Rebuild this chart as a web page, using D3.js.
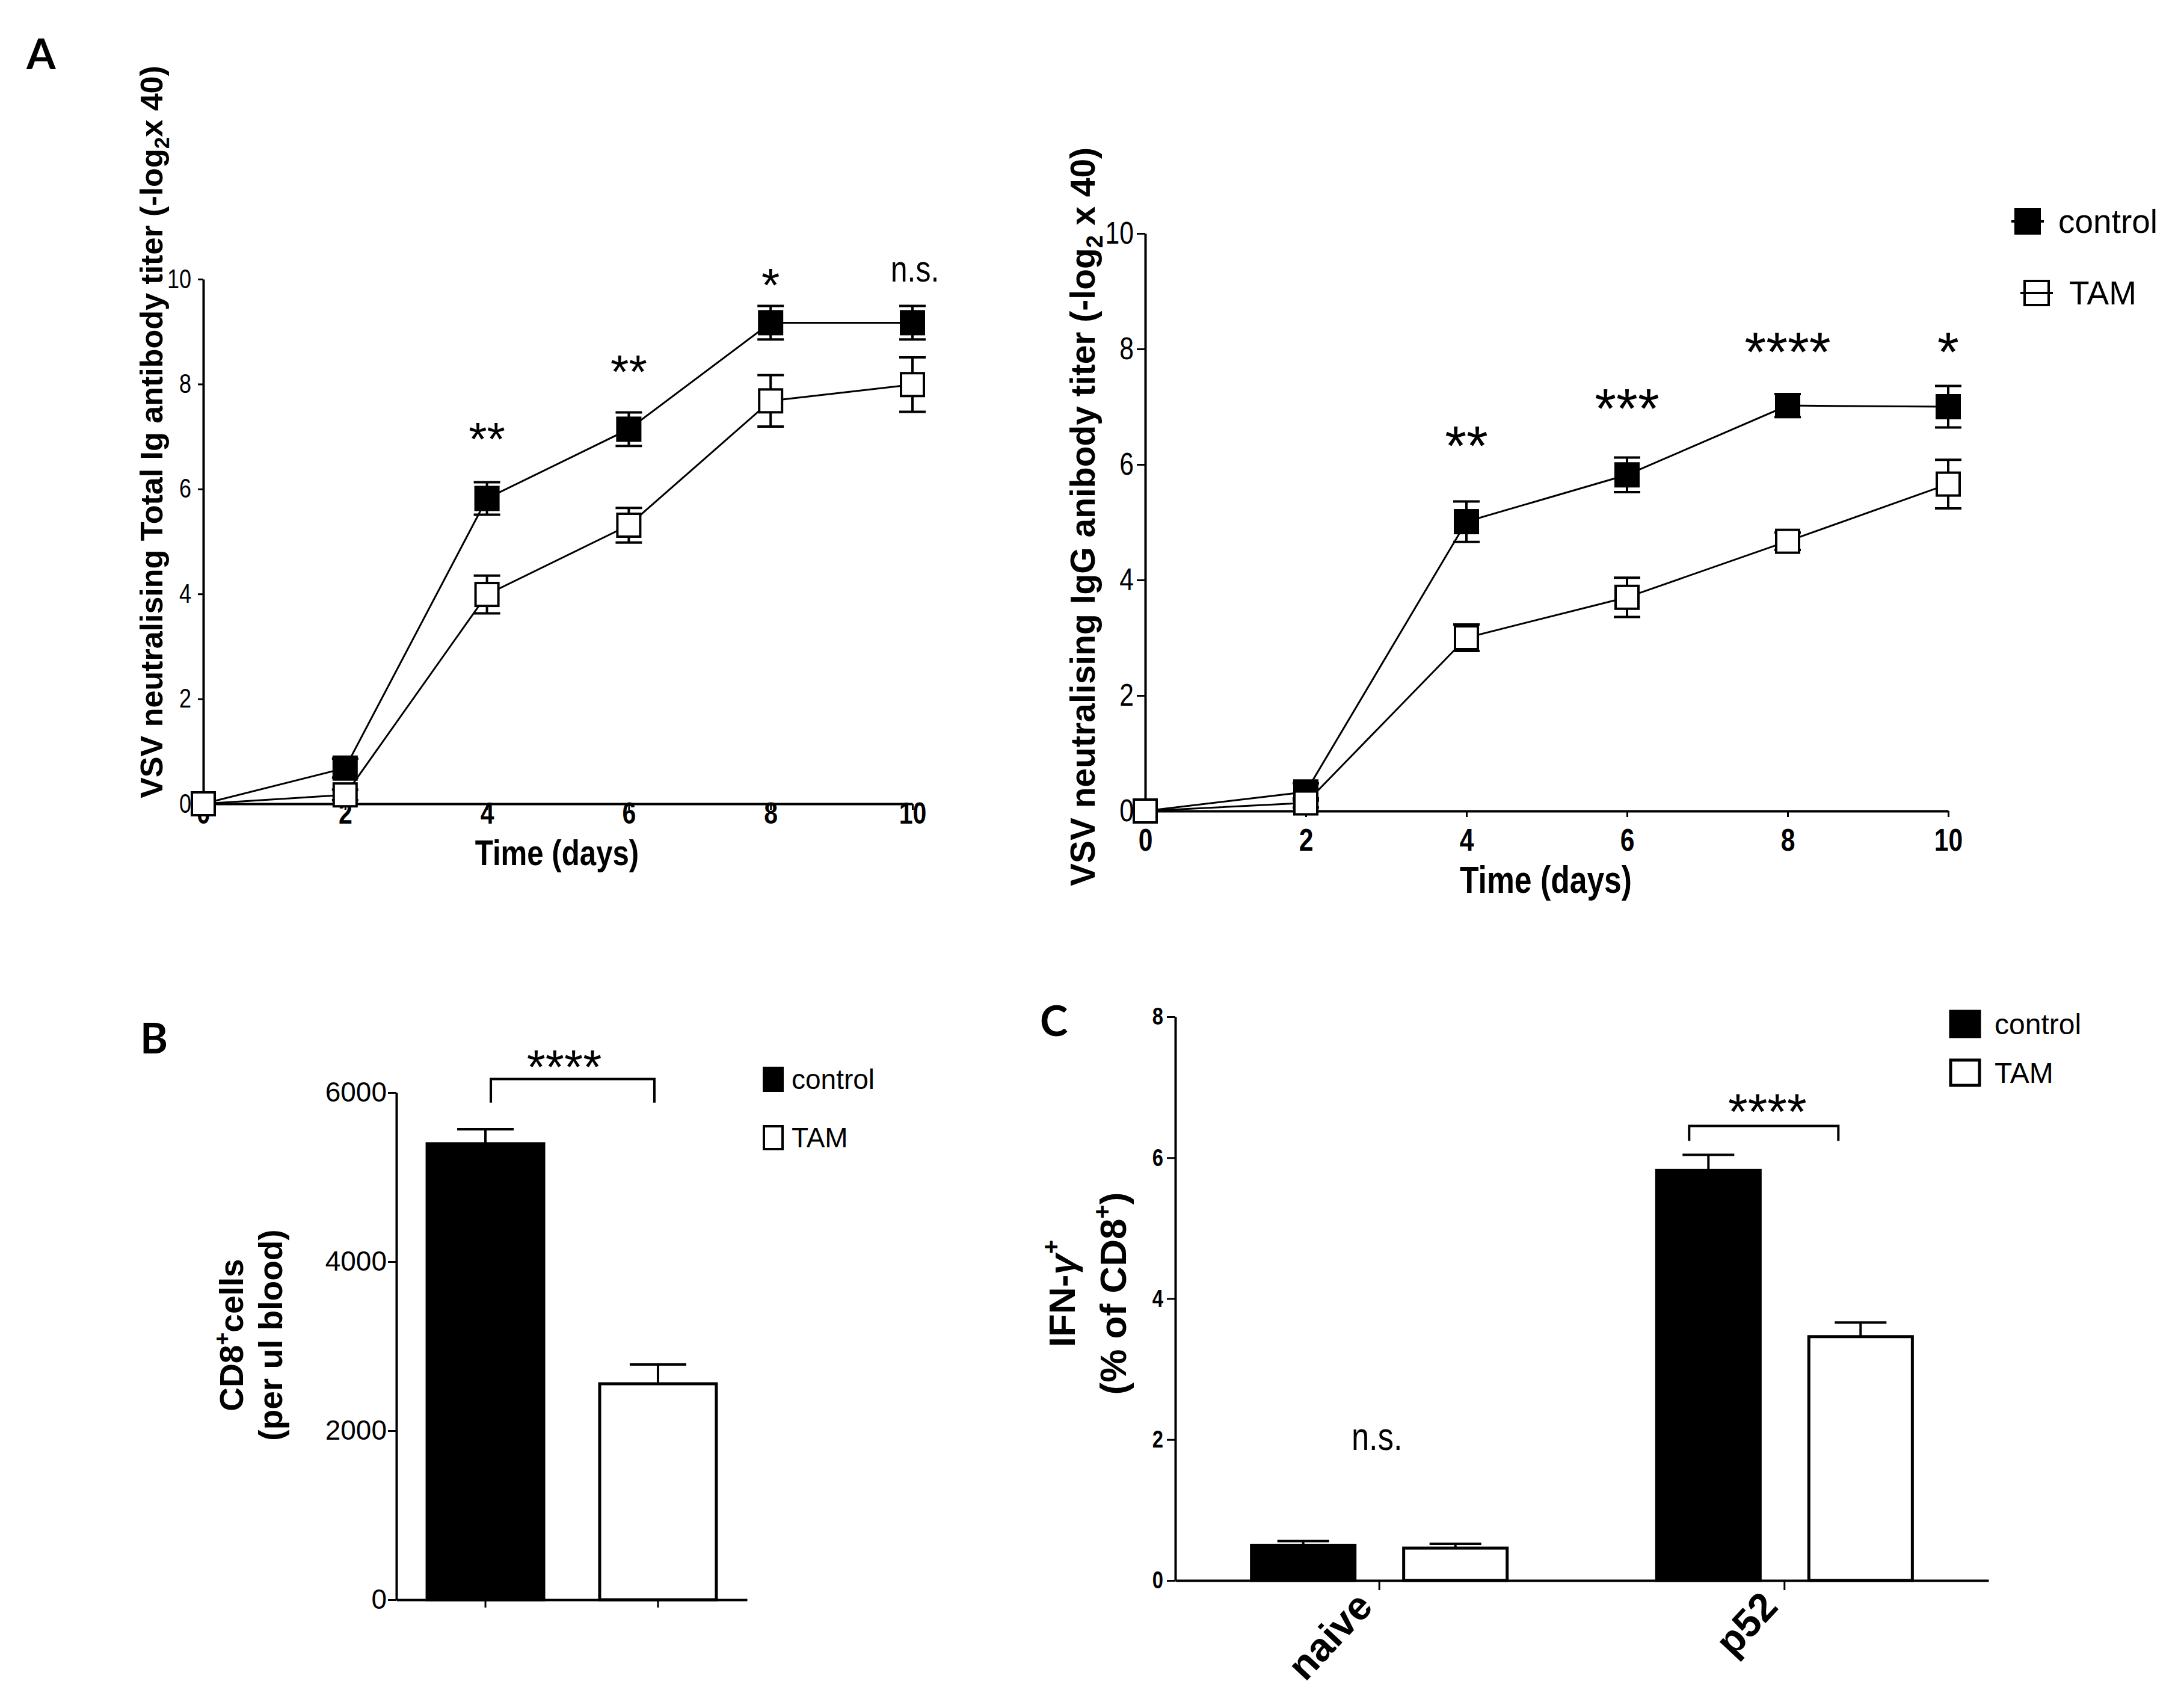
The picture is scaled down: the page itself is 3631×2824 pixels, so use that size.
<!DOCTYPE html>
<meta charset="utf-8">
<head>
<script src="https://d3js.org/d3.v7.min.js"></script>
<style>
  body { margin: 0; background: #fff; }
</style>
</head>
<body>
<div id="chart"></div>
<script>

// ---- values ----
var days = [0, 2, 4, 6, 8, 10];
var dayTicks = [0, 2, 4, 6, 8, 10];
var titerTicks = [0, 2, 4, 6, 8, 10];

// A, left: total Ig titer
var totalIgControl    = [0, 0.68, 5.82, 7.14, 9.17, 9.17];
var totalIgControlErr = [0, 0.18, 0.31, 0.32, 0.32, 0.32];
var totalIgTam        = [0, 0.17, 3.99, 5.31, 7.68, 7.99];
var totalIgTamErr     = [0, 0.10, 0.36, 0.33, 0.49, 0.52];
var totalIgSig        = ["", "", "**", "**", "*", "n.s."];

// A, right: IgG titer
var iggControl    = [0, 0.33, 5.01, 5.82, 7.02, 7.00];
var iggControlErr = [0, 0.15, 0.35, 0.30, 0.20, 0.36];
var iggTam        = [0, 0.14, 3.00, 3.70, 4.67, 5.66];
var iggTamErr     = [0, 0.08, 0.23, 0.34, 0.15, 0.42];
var iggSig        = ["", "", "**", "***", "****", "*"];

// B: CD8+ cells per ul blood
var groups = ["control", "TAM"];
var cd8Values = [5395, 2555];
var cd8Err = [170, 228];
var cd8Ticks = [0, 2000, 4000, 6000];

// C: IFN-g+ % of CD8+
var ifnCategories = ["naive", "p52"];
var ifnControl    = [0.50, 5.82];
var ifnControlErr = [0.06, 0.22];
var ifnTam        = [0.46, 3.46];
var ifnTamErr     = [0.06, 0.20];
var ifnTicks = [0, 2, 4, 6, 8];

var ARIAL = "'Liberation Sans', Arial, sans-serif";
var LETTER = "Lato, 'Open Sans', sans-serif";
var SQUEEZE = 0.82;   // no narrow font installed, so squeeze Arial sideways

var W = 3631, H = 2824;

var svg = d3.select("#chart").append("svg")
    .attr("width", W)
    .attr("height", H);
svg.append("rect").attr("width", W).attr("height", H).attr("fill", "#fff");

// squeeze axis tick texts horizontally around their tick
function squeeze(sel) {
  sel.each(function() {
    var t = d3.select(this);
    var x = +t.attr("x") || 0;
    t.attr("x", x / SQUEEZE).attr("transform", "scale(" + SQUEEZE + ",1)");
  });
}

// a squeezed free text
function narrowText(g, x, y, txt, size, weight) {
  return g.append("text")
    .attr("transform", "translate(" + x + "," + y + ") scale(" + SQUEEZE + ",1)")
    .attr("text-anchor", "middle")
    .style("font-family", ARIAL)
    .style("font-weight", weight || 400)
    .style("font-size", size + "px")
    .text(txt);
}

function styleAxis(ax, size, weight) {
  ax.select(".domain").attr("stroke", "#000").attr("stroke-width", 4);
  ax.selectAll(".tick line").attr("stroke", "#000").attr("stroke-width", 3);
  ax.selectAll(".tick text")
    .style("font-family", ARIAL)
    .style("font-size", size + "px")
    .style("font-weight", weight)
    .attr("fill", "#000");
}

// panel letters
[["A", 44, 115], ["B", 233, 1751], ["C", 1729, 1722]].forEach(function(d) {
  svg.append("text")
    .attr("x", d[1]).attr("y", d[2])
    .style("font-family", LETTER).style("font-weight", 700).style("font-size", "70px")
    .text(d[0]);
});

// ---------- line panels (A) ----------
function linePanel(o) {
  var x = d3.scaleLinear().domain([0, 10]).range([o.left, o.right]);
  var y = d3.scaleLinear().domain([0, 10]).range([o.bottom, o.top]);
  var g = svg.append("g");

  var ya = g.append("g")
    .attr("transform", "translate(" + o.left + ",0)")
    .call(d3.axisLeft(y).tickValues(titerTicks).tickSize(o.yTick).tickPadding(o.yPad).tickSizeOuter(0));
  styleAxis(ya, o.yFont, 400);
  squeeze(ya.selectAll(".tick text"));

  var xa = g.append("g")
    .attr("transform", "translate(0," + o.bottom + ")")
    .call(d3.axisBottom(x).tickValues(dayTicks).tickSize(10).tickSizeOuter(0));
  styleAxis(xa, o.xFont, 700);
  xa.selectAll(".tick text").attr("y", o.xBase).attr("dy", null);
  squeeze(xa.selectAll(".tick text"));

  // x title
  narrowText(g, o.timeX, o.timeY, "Time (days)", o.timeFont, 700);

  // y title
  var t = g.append("text")
    .attr("transform", "translate(" + o.titleX + "," + o.titleY + ") rotate(-90)")
    .attr("text-anchor", "middle")
    .style("font-family", ARIAL).style("font-weight", 700).style("font-size", o.titleFont + "px");
  t.append("tspan").text(o.title[0]);
  t.append("tspan").attr("dy", o.titleFont * 0.22).style("font-size", (o.titleFont * 0.68) + "px").text("2");
  t.append("tspan").attr("dy", -o.titleFont * 0.22).text(o.title[1]);

  var series = [
    {v: o.control, e: o.controlErr, fill: "#000"},
    {v: o.tam, e: o.tamErr, fill: "#fff"}
  ];

  var line = d3.line()
    .x(function(d, i) { return x(days[i]); })
    .y(function(d) { return y(d); });

  series.forEach(function(s) {
    // error bars, both directions
    var eb = g.append("g").attr("stroke", "#000").attr("stroke-width", 4);
    s.v.forEach(function(v, i) {
      if (!s.e[i]) return;
      var cx = x(days[i]);
      eb.append("line").attr("x1", cx).attr("x2", cx).attr("y1", y(v - s.e[i])).attr("y2", y(v + s.e[i]));
      [v - s.e[i], v + s.e[i]].forEach(function(w) {
        eb.append("line").attr("x1", cx - 22).attr("x2", cx + 22).attr("y1", y(w)).attr("y2", y(w));
      });
    });
  });
  series.forEach(function(s) {
    g.append("path")
      .datum(s.v)
      .attr("d", line)
      .attr("fill", "none")
      .attr("stroke", "#000")
      .attr("stroke-width", 3);
  });
  series.forEach(function(s) {
    g.selectAll(null)
      .data(s.v)
      .enter()
      .append("rect")
        .attr("x", function(d, i) { return x(days[i]) - 19; })
        .attr("y", function(d) { return y(d) - 19; })
        .attr("width", 38).attr("height", 38)
        .attr("fill", s.fill)
        .attr("stroke", "#000").attr("stroke-width", 4);
  });

  // significance marks
  o.sig.forEach(function(s, i) {
    if (!s) return;
    var cy = y(o.sigLevel[i]);
    if (s === "n.s.") {
      narrowText(g, x(days[i]) + 4, cy + o.nsFont * 0.26, s, o.nsFont, 400);
    } else {
      g.append("text")
        .attr("x", x(days[i])).attr("y", cy + o.starFont * 0.6)
        .attr("text-anchor", "middle")
        .style("font-family", ARIAL)
        .style("font-size", o.starFont + "px")
        .text(s);
    }
  });
  return g;
}

linePanel({
  left: 338, right: 1517, top: 464, bottom: 1336,
  yTick: 9, yPad: 11, yFont: 44, xFont: 50, xBase: 33,
  timeX: 926, timeY: 1438, timeFont: 60,
  titleX: 270, titleY: 718, titleFont: 52,
  title: ["VSV neutralising Total Ig antibody titer (-log", "x 40)"],
  control: totalIgControl, controlErr: totalIgControlErr,
  tam: totalIgTam, tamErr: totalIgTamErr,
  sig: totalIgSig, sigLevel: [0, 0, 7.18, 8.46, 10.11, 10.14],
  starFont: 78, nsFont: 61
});

linePanel({
  left: 1904, right: 3239, top: 388, bottom: 1348,
  yTick: 14, yPad: 5, yFont: 52, xFont: 52, xBase: 66,
  timeX: 2570, timeY: 1484, timeFont: 63,
  titleX: 1820, titleY: 859, titleFont: 57,
  title: ["VSV neutralising IgG anibody titer (-log", " x 40)"],
  control: iggControl, controlErr: iggControlErr,
  tam: iggTam, tamErr: iggTamErr,
  sig: iggSig, sigLevel: [0, 0, 6.56, 7.21, 8.19, 8.19],
  starFont: 92, nsFont: 61
});

// legend for A
var legA = svg.append("g");
[{name: "control", fill: "#000", cx: 3371, cy: 368, tx: 3422},
 {name: "TAM", fill: "none", cx: 3386, cy: 487, tx: 3440}].forEach(function(d) {
  legA.append("line").attr("x1", d.cx - 27).attr("x2", d.cx + 27)
    .attr("y1", d.cy).attr("y2", d.cy).attr("stroke", "#000").attr("stroke-width", 4);
  legA.append("rect").attr("x", d.cx - 20).attr("y", d.cy - 20).attr("width", 40).attr("height", 40)
    .attr("fill", d.fill).attr("stroke", "#000").attr("stroke-width", 4);
  legA.append("text").attr("x", d.tx).attr("y", d.cy + 19)
    .style("font-family", ARIAL).style("font-size", "55px").text(d.name);
});

// ---------- B: CD8+ cells ----------
(function() {
  var x = d3.scaleBand().domain(groups).range([659, 1242]).paddingInner(0.324).paddingOuter(0.178);
  var y = d3.scaleLinear().domain([0, 6000]).range([2659, 1816]);
  var g = svg.append("g");

  g.selectAll(null)
    .data(cd8Values)
    .enter()
    .append("rect")
      .attr("x", function(d, i) { return x(groups[i]); })
      .attr("y", function(d) { return y(d); })
      .attr("width", x.bandwidth())
      .attr("height", function(d) { return y(0) - y(d); })
      .attr("fill", function(d, i) { return i === 0 ? "#000" : "#fff"; })
      .attr("stroke", "#000").attr("stroke-width", 5);

  cd8Values.forEach(function(v, i) {
    var cx = x(groups[i]) + x.bandwidth() / 2;
    g.append("line").attr("x1", cx).attr("x2", cx).attr("y1", y(v)).attr("y2", y(v + cd8Err[i]))
      .attr("stroke", "#000").attr("stroke-width", 4);
    g.append("line").attr("x1", cx - 47).attr("x2", cx + 47).attr("y1", y(v + cd8Err[i])).attr("y2", y(v + cd8Err[i]))
      .attr("stroke", "#000").attr("stroke-width", 4);
  });

  var ya = g.append("g").attr("transform", "translate(659,0)")
    .call(d3.axisLeft(y).tickValues(cd8Ticks).tickFormat(d3.format("d")).tickSize(14).tickPadding(2).tickSizeOuter(0));
  styleAxis(ya, 46, 400);

  var xa = g.append("g").attr("transform", "translate(0,2659)")
    .call(d3.axisBottom(x).tickSize(13).tickSizeOuter(0).tickFormat(""));
  styleAxis(xa, 10, 400);

  // bracket
  var bx1 = x("control") + x.bandwidth() / 2 + 9, bx2 = x("TAM") + x.bandwidth() / 2 - 6;
  g.append("path")
    .attr("d", "M" + bx1 + "," + y(5880) + "V" + y(6160) + "H" + bx2 + "V" + y(5880))
    .attr("fill", "none").attr("stroke", "#000").attr("stroke-width", 4);
  g.append("text").attr("x", (bx1 + bx2) / 2 - 14).attr("y", y(6420) + 44)
    .attr("text-anchor", "middle").style("font-family", ARIAL).style("font-size", "80px").text("****");

  // y title
  var t = g.append("text").attr("transform", "translate(404,2219) rotate(-90)")
    .attr("text-anchor", "middle")
    .style("font-family", ARIAL).style("font-weight", 700).style("font-size", "55px");
  t.append("tspan").text("CD8");
  t.append("tspan").attr("dy", -22).style("font-size", "36px").text("+");
  t.append("tspan").attr("dy", 22).text("cells");
  g.append("text").attr("transform", "translate(469,2219) rotate(-90)")
    .attr("text-anchor", "middle")
    .style("font-family", ARIAL).style("font-weight", 700).style("font-size", "55px")
    .text("(per ul blood)");

  // legend
  [{name: "control", fill: "#000", y: 1775}, {name: "TAM", fill: "#fff", y: 1872}].forEach(function(d) {
    g.append("rect").attr("x", 1270).attr("y", d.y).attr("width", 31).attr("height", 38)
      .attr("fill", d.fill).attr("stroke", "#000").attr("stroke-width", 4);
    g.append("text").attr("x", 1316).attr("y", d.y + 35)
      .style("font-family", ARIAL).style("font-size", "46px").text(d.name);
  });
})();

// ---------- C: IFN-g ----------
(function() {
  var x0 = d3.scaleBand().domain(ifnCategories).range([1954, 3306]).paddingInner(0.369).paddingOuter(0.188);
  var x1 = d3.scaleBand().domain(groups).range([0, x0.bandwidth()]).paddingInner(0.32);
  var y = d3.scaleLinear().domain([0, 8]).range([2627, 1690]);
  var g = svg.append("g");

  var rows = [];
  ifnCategories.forEach(function(c, i) {
    rows.push({cat: c, grp: "control", v: ifnControl[i], e: ifnControlErr[i]});
    rows.push({cat: c, grp: "TAM", v: ifnTam[i], e: ifnTamErr[i]});
  });

  g.selectAll(null)
    .data(rows)
    .enter()
    .append("rect")
      .attr("x", function(d) { return x0(d.cat) + x1(d.grp); })
      .attr("y", function(d) { return y(d.v); })
      .attr("width", x1.bandwidth())
      .attr("height", function(d) { return y(0) - y(d.v); })
      .attr("fill", function(d) { return d.grp === "control" ? "#000" : "#fff"; })
      .attr("stroke", "#000").attr("stroke-width", 5);

  rows.forEach(function(d) {
    var cx = x0(d.cat) + x1(d.grp) + x1.bandwidth() / 2;
    g.append("line").attr("x1", cx).attr("x2", cx).attr("y1", y(d.v)).attr("y2", y(d.v + d.e))
      .attr("stroke", "#000").attr("stroke-width", 4);
    g.append("line").attr("x1", cx - 43).attr("x2", cx + 43).attr("y1", y(d.v + d.e)).attr("y2", y(d.v + d.e))
      .attr("stroke", "#000").attr("stroke-width", 4);
  });

  var ya = g.append("g").attr("transform", "translate(1954,0)")
    .call(d3.axisLeft(y).tickValues(ifnTicks).tickSize(14).tickPadding(6).tickSizeOuter(0));
  styleAxis(ya, 40, 700);
  squeeze(ya.selectAll(".tick text"));

  var xa = g.append("g").attr("transform", "translate(0,2627)")
    .call(d3.axisBottom(x0).tickSize(16).tickSizeOuter(0));
  styleAxis(xa, 66, 700);
  xa.selectAll(".tick text")
    .attr("y", 0).attr("dy", null)
    .attr("text-anchor", "end")
    .attr("transform", "translate(-8,46) rotate(-47)");

  // bracket over p52
  var p = x0("p52");
  var bx1 = p + x1("control") + x1.bandwidth() / 2 - 32, bx2 = p + x1("TAM") + x1.bandwidth() / 2 - 37;
  g.append("path")
    .attr("d", "M" + bx1 + "," + y(6.24) + "V" + y(6.45) + "H" + bx2 + "V" + y(6.24))
    .attr("fill", "none").attr("stroke", "#000").attr("stroke-width", 4);
  g.append("text").attr("x", (bx1 + bx2) / 2 + 6).attr("y", y(6.83) + 50)
    .attr("text-anchor", "middle").style("font-family", ARIAL).style("font-size", "84px").text("****");

  narrowText(g, x0("naive") + x0.bandwidth() / 2 - 4, y(2.0) + 17, "n.s.", 64, 400);

  // y title
  var t = g.append("text").attr("transform", "translate(1787,2150) rotate(-90)")
    .attr("text-anchor", "middle")
    .style("font-family", ARIAL).style("font-weight", 700).style("font-size", "62px");
  t.append("tspan").text("IFN-");
  t.append("tspan").style("font-style", "italic").text("γ");
  t.append("tspan").attr("dy", -26).style("font-size", "40px").text("+");
  var t2 = g.append("text").attr("transform", "translate(1872,2150) rotate(-90)")
    .attr("text-anchor", "middle")
    .style("font-family", ARIAL).style("font-weight", 700).style("font-size", "62px");
  t2.append("tspan").text("(% of CD8");
  t2.append("tspan").attr("dy", -26).style("font-size", "40px").text("+");
  t2.append("tspan").attr("dy", 26).text(")");

  // legend
  [{name: "control", fill: "#000", y: 1681}, {name: "TAM", fill: "#fff", y: 1762}].forEach(function(d) {
    g.append("rect").attr("x", 3243).attr("y", d.y).attr("width", 48).attr("height", 42)
      .attr("fill", d.fill).attr("stroke", "#000").attr("stroke-width", 5);
    g.append("text").attr("x", 3316).attr("y", d.y + 38)
      .style("font-family", ARIAL).style("font-size", "48px").text(d.name);
  });
})();

</script>
</body>
